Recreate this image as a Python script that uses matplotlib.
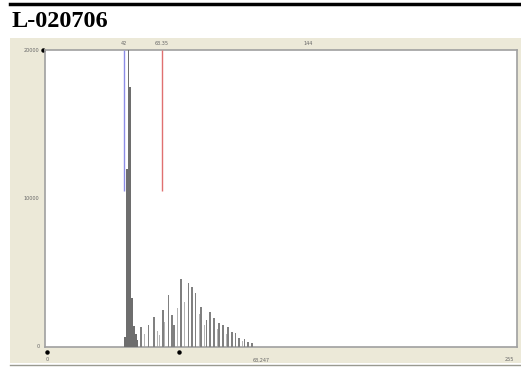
import numpy as np
import matplotlib.pyplot as plt
from matplotlib.lines import Line2D
from matplotlib.patches import Rectangle

# histogram (grey level -> count)
peak_bins = [43, 44, 45, 46, 47, 48, 49, 50]
peak_counts = [700, 12000, 20500, 17500, 3300, 1400, 900, 500]

spike_bins = [52, 56, 59, 64, 67, 69, 70, 74, 78, 80, 82, 85, 88, 90, 92, 95,
              97, 100, 102, 104, 106, 109, 111, 113]
spike_counts = [1340, 1470, 2000, 2480, 3480, 2140, 1500, 4550, 4280, 4010, 3610,
                2680, 1810, 2340, 1940, 1600, 1470, 1340, 1000, 940, 600, 535, 335, 270]

# lighter, shorter spikes in between
minor_bins = [54, 61, 62, 65, 72, 76, 84, 87, 94, 99, 108]
minor_counts = [900, 1100, 800, 1700, 2600, 3000, 2200, 1500, 1200, 900, 400]

blue_marker = 42.4
red_marker = 63.3
marker_bottom = 10500

top_labels = [(42.4, "42"), (63.3, "63.35"), (144, "144")]
bottom_labels = [(0, "0"), (118, "63,247"), (255, "255")]
y_labels = [(20000, "20000"), (10000, "10000"), (0, "0")]

W, H = 521, 367
fig = plt.figure(figsize=(W / 100, H / 100), dpi=100)
fig.patch.set_facecolor("white")

# beige panel of the window
fig.add_artist(Rectangle((10 / W, 4 / H), 511 / W, (329 - 4) / H,
                         transform=fig.transFigure, facecolor="#ECE9D8",
                         edgecolor="none", zorder=0))
fig.add_artist(Line2D([10 / W, 1], [2 / H, 2 / H], color="#9a9a90", lw=1.0))
# black rule at the top
fig.add_artist(Line2D([10 / W, 1], [1 - 4 / H, 1 - 4 / H], color="black", lw=2.5))
fig.text(12 / W, 1 - 27 / H, "L-020706", fontsize=17.5, fontweight="bold",
         family="Liberation Serif", ha="left", va="baseline")

ax = fig.add_axes([45 / W, (H - 347) / H, (517 - 45) / W, (347 - 50) / H])
ax.set_facecolor("white")
ax.set_xlim(-1.1, 259.4)
ax.set_ylim(0, 20000)
for s in ax.spines.values():
    s.set_color("#a0a0a0")
    s.set_linewidth(1.2)
ax.set_xticks([])
ax.set_yticks([])

ax.bar(minor_bins, minor_counts, width=0.7, color="#b4b4b4", zorder=2)
ax.bar(spike_bins, spike_counts, width=0.9, color="#808080", zorder=3)
ax.bar(peak_bins, peak_counts, width=1.0, color="#6e6e6e", zorder=3)

ax.vlines(blue_marker, marker_bottom, 20000, color="#8c8ce6", lw=1.0, zorder=4)
ax.vlines(red_marker, marker_bottom, 20000, color="#e07070", lw=1.0, zorder=4)

for x, t in top_labels:
    ax.text(x, 1.015, t, transform=ax.get_xaxis_transform(), fontsize=3.5,
            color="#666666", ha="center", va="bottom", clip_on=False)
for x, t in bottom_labels:
    ax.text(x, -0.035, t, transform=ax.get_xaxis_transform(), fontsize=3.5,
            color="#666666", ha="center", va="top", clip_on=False)
for y, t in y_labels:
    ax.text(-0.012, y, t, transform=ax.get_yaxis_transform(), fontsize=3.5,
            color="#666666", ha="right", va="center", clip_on=False)

# slider handles
ax.plot([0, 73], [-0.017, -0.017], "o", ms=2.2, color="black",
        transform=ax.get_xaxis_transform(), clip_on=False)
ax.plot([-0.004], [20000], "o", ms=2.2, color="black",
        transform=ax.get_yaxis_transform(), clip_on=False)

fig.savefig("out.png", dpi=100)
